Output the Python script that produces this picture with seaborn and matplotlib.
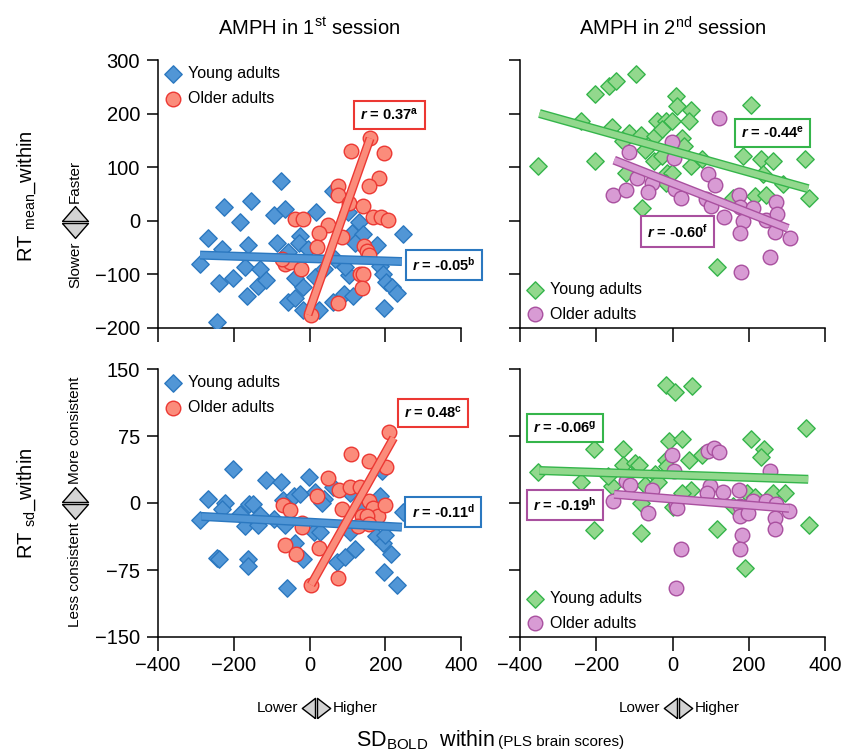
import matplotlib
matplotlib.use("Agg")
import matplotlib.pyplot as plt
import matplotlib.patheffects as pe
from matplotlib.lines import Line2D
import numpy as np
import pandas as pd
import seaborn as sns

# ---- data (SD_BOLD within vs RT within) ----
# session 1, RT mean
s1_mean_young_x = [-269, -225, -154, -75, -183, -232, -289, -240, -203, -170, -162, -130, -135, -115,
                   -165, -245, -95, -66, -86, -57, -26, -29, -3, 18, -38, -16, -57, -38, -16, 15, 37,
                   24, 61, 90, 116, 63, 101, 112, 131, 142, 121, 178, 187, 193, 202, 218, 231, 196,
                   246, 103, 94, 68]
s1_mean_young_y = [-32, 26, 37, 74, -2, -53, -81, -116, -107, -87, -45, -89, -121, -110, -141, -188,
                   11, 22, -42, -59, -29, -42, -53, 16, -107, -124, -152, -144, -166, -104, -90, -166,
                   -152, -136, -140, 56, 16, -22, -2, -25, -42, -45, -84, -99, -115, -124, -135, -163,
                   -25, -102, -87, -71]
s1_mean_older_x = [160, 109, 198, 184, 156, 75, 75, 103, 140, -38, -16, 50, 26, 167, 189, 207, 19, 86,
                   145, 151, 156, -64, -51, -22, 134, 141, 139, 75, 4, -73]
s1_mean_older_y = [154, 130, 127, 79, 65, 65, 48, 33, 28, 3, 3, -7, -22, 7, 7, 2, -48, -31, -47, -56,
                   -64, -81, -76, -89, -99, -99, -126, -153, -175, -71]

# session 2, RT mean
s2_mean_young_x = [-352, -204, -167, -147, -95, -239, -204, -160, -115, -131, -82, -71, -41, -18, -1,
                   -45, -27, 8, 12, 48, 43, 26, 30, -49, -27, -122, -80, -14, -1, 48, 77, 184, 206, 233,
                   263, 237, 290, 347, 359, 217, 244, 158, 118, -18]
s2_mean_young_y = [102, 237, 251, 260, 273, 186, 111, 175, 164, 149, 161, 133, 186, 186, 186, 158, 171,
                   233, 214, 206, 186, 155, 140, 112, 121, 90, 23, 90, 90, 102, 115, 121, 216, 116, 112,
                   87, 68, 115, 42, 47, 48, 42, -86, 71]
s2_mean_older_x = [-114, -155, -122, -93, -55, -64, -1, 4, 7, 21, 94, 112, 122, 87, 100, 136, 174, 176,
                   186, 211, 177, 246, 272, 274, 270, 307, 256, 180]
s2_mean_older_y = [128, 48, 57, 79, 71, 53, 147, 118, 59, 43, 88, 66, 191, 40, 28, 8, 48, 25, 0, 23,
                   -22, 2, 36, 12, -20, -32, -67, -95]

# session 1, RT sd
s1_sd_young_x = [-203, -269, -223, -230, -289, -183, -170, -161, -150, -130, -135, -115, -75, -93, -64,
                 -69, -40, -25, -1, 15, 37, 11, 28, -38, -16, -245, -239, -162, -163, -60, 72, 94, 121,
                 107, 63, 107, 187, 191, 175, 193, 215, 196, 231, 246, 200, 33, 138]
s1_sd_young_y = [38, 4, 0, -7, -19, -12, -26, -1, -1, -13, -25, 26, 23, -18, -25, 3, 8, 10, 29, 12, 5,
                 -32, -32, -45, -63, -62, -63, -63, -70, -95, -66, -60, -52, -32, 18, 11, 8, 36, -37,
                 -45, -57, -77, -92, -10, -36, 0, -4]
s1_sd_older_x = [209, 109, 157, 203, 50, 78, 107, 134, 19, -69, -51, 86, 156, 167, 181, 200, 138, 152,
                 128, -20, -19, -64, -35, 26, 75, 4, 157]
s1_sd_older_y = [80, 55, 47, 40, 28, 15, 18, 18, 8, -2, -8, -7, 2, -6, -14, -2, -15, -15, -26, -22, -27,
                 -47, -57, -50, -84, -92, -23]

# session 2, RT sd
s2_sd_young_x = [-353, -239, -205, -205, -131, -160, -168, -129, -98, -89, -71, -82, -82, -45, -38, -18,
                 6, 50, -10, 24, -18, -14, 43, 77, 48, 24, 0, 118, 189, 206, 241, 233, 195, 217, 263,
                 294, 350, 359, 159]
s2_sd_young_y = [35, 23, 61, -30, 60, 19, 30, 43, 45, 43, 20, 0, -34, 33, 24, 132, 124, 131, 69, 72, 48,
                 41, 48, 54, 15, 11, -4, -29, -73, 72, 61, 52, 11, 7, 11, 11, 84, -25, -3]
s2_sd_older_x = [-1, 4, 94, 109, 122, -123, -111, -155, -54, -64, 8, 12, 98, 91, 133, 174, 256, 176, 176,
                 198, 210, 245, 272, 270, 270, 306, 182, 177, 21, 8]
s2_sd_older_y = [54, 36, 58, 62, 57, 25, 20, 2, 15, -11, -2, -6, 19, 11, 12, 15, 36, -3, -14, -11, 2, 2,
                 -1, -17, -29, -9, -36, -52, -51, -95]

# fitted lines as drawn (slope, intercept, x start, x end), order: s1 mean, s2 mean, s1 sd, s2 sd
young_slope = [-0.0225, -0.199, -0.0227, -0.0139]
young_icept = [-70.5, 130.7, -21.5, 31.5]
young_xrange = [(-289, 244), (-349, 356), (-285, 244), (-349, 356)]
older_slope = [2.006, -0.279, 0.754, -0.0343]
older_icept = [-167.0, 70.4, -94.5, 4.5]
older_xrange = [(-4, 160), (-153, 303), (4, 222), (-153, 306)]

# correlation labels
young_r = ["-0.05", "-0.44", "-0.11", "-0.06"]
young_note = ["b", "e", "d", "g"]
older_r = ["0.37", "-0.60", "0.48", "-0.19"]
older_note = ["a", "f", "c", "h"]

session_titles = ["AMPH in 1$^{\\rm st}$ session", "AMPH in 2$^{\\rm nd}$ session"]

sns.set_style("ticks")
plt.rcParams["font.family"] = ["Liberation Sans", "DejaVu Sans"]
plt.rcParams["text.color"] = "black"
plt.rcParams["mathtext.fontset"] = "custom"
plt.rcParams["mathtext.rm"] = "Liberation Sans"
plt.rcParams["mathtext.it"] = "Liberation Sans:italic"
plt.rcParams["mathtext.bf"] = "Liberation Sans:bold"
plt.rcParams["mathtext.bfit"] = "Liberation Sans:italic:bold"

W, H = 844, 756
fig = plt.figure(figsize=(W / 100, H / 100), dpi=100)


def fx(px):
    return px / W


def fy(py):
    return 1 - py / H


blue = ("#5196d6", "#2b78c0")
red = ("#fb8c7b", "#ec3833")
green = ("#92d88d", "#35b54b")
purple = ("#d89bd4", "#a9509f")

panels = [
    dict(yx=s1_mean_young_x, yy=s1_mean_young_y, ox=s1_mean_older_x, oy=s1_mean_older_y,
         cy=blue, co=red, rect=[158, 60, 461, 328], ylim=(-200, 300), yticks=np.arange(-200, 301, 100),
         leg="upper left", ypos=(355, -82), opos=(210, 198)),
    dict(yx=s2_mean_young_x, yy=s2_mean_young_y, ox=s2_mean_older_x, oy=s2_mean_older_y,
         cy=green, co=purple, rect=[520, 60, 825, 328], ylim=(-200, 300), yticks=np.arange(-200, 301, 100),
         leg="lower left", ypos=(263, 164), opos=(13, -20)),
    dict(yx=s1_sd_young_x, yy=s1_sd_young_y, ox=s1_sd_older_x, oy=s1_sd_older_y,
         cy=blue, co=red, rect=[158, 369, 461, 637], ylim=(-150, 150), yticks=np.arange(-150, 151, 75),
         leg="upper left", ypos=(353, -10), opos=(326, 101)),
    dict(yx=s2_sd_young_x, yy=s2_sd_young_y, ox=s2_sd_older_x, oy=s2_sd_older_y,
         cy=green, co=purple, rect=[520, 369, 825, 637], ylim=(-150, 150), yticks=np.arange(-150, 151, 75),
         leg="lower left", ypos=(-282, 84), opos=(-282, -2)),
]

for i, p in enumerate(panels):
    l, t, r, b = p["rect"]
    ax = fig.add_axes([fx(l), fy(b), fx(r) - fx(l), fy(t) - fy(b)])
    young = pd.DataFrame({"x": p["yx"], "y": p["yy"]})
    older = pd.DataFrame({"x": p["ox"], "y": p["oy"]})
    sns.scatterplot(data=young, x="x", y="y", marker="D", s=78, color=p["cy"][0],
                    edgecolor=p["cy"][1], linewidth=1.0, label="Young adults", ax=ax, zorder=3)
    sns.scatterplot(data=older, x="x", y="y", marker="o", s=110, color=p["co"][0],
                    edgecolor=p["co"][1], linewidth=1.0, label="Older adults", ax=ax, zorder=3)

    for slope, icept, xr, col in [(young_slope[i], young_icept[i], young_xrange[i], p["cy"]),
                                  (older_slope[i], older_icept[i], older_xrange[i], p["co"])]:
        xs = np.array(xr, dtype=float)
        ax.plot(xs, slope * xs + icept, color=col[0], lw=4.5, solid_capstyle="butt", zorder=4,
                path_effects=[pe.Stroke(linewidth=6.5, foreground=col[1], capstyle="butt"), pe.Normal()])

    for txt, note, pos, col in [(young_r[i], young_note[i], p["ypos"], p["cy"][1]),
                                (older_r[i], older_note[i], p["opos"], p["co"][1])]:
        ax.text(pos[0], pos[1], "$\\mathbfit{r}$ = " + txt + "$^{\\mathbf{" + note + "}}$",
                ha="center", va="center", fontsize=10.5, fontweight="bold", zorder=6, clip_on=False,
                bbox=dict(boxstyle="square,pad=0.42", fc="white", ec=col, lw=1.5))

    ax.set_xlim(-400, 400)
    ax.set_ylim(*p["ylim"])
    ax.set_xticks(np.arange(-400, 401, 200))
    ax.set_yticks(p["yticks"])
    ax.set_xlabel("")
    ax.set_ylabel("")
    sns.despine(ax=ax)
    for s in ["left", "bottom"]:
        ax.spines[s].set_linewidth(1.1)
        ax.spines[s].set_color("black")
    ax.tick_params(direction="out", width=1.1, color="black", labelcolor="black", labelsize=14.5)
    ax.tick_params(axis="y", length=8, pad=5)
    ax.tick_params(axis="x", length=10, pad=4)
    if i < 2:
        ax.tick_params(axis="x", labelbottom=False)
    if i % 2 == 1:
        ax.tick_params(axis="y", labelleft=False)
    leg = ax.legend(loc=p["leg"], frameon=False, fontsize=11.5, handletextpad=0.35, labelspacing=0.62,
                    borderaxespad=0.1, borderpad=0.3, handlelength=1.1)
    for t_ in leg.get_texts():
        t_.set_color("black")
    if i < 2:
        ax.set_title(session_titles[i], fontsize=14.5, pad=18, color="black")


# split-triangle glyphs used as direction cues
def tri_pair(cx, cy, vertical):
    if vertical:
        a = [(-1, 0), (1, 0), (0, 1.15), (-1, 0)]
        bb = [(-1, 0), (1, 0), (0, -1.15), (-1, 0)]
        offs = [(0, 1.0), (0, -1.0)]
        ms = 21.5
    else:
        a = [(0, -1), (0, 1), (-1.3, 0), (0, -1)]
        bb = [(0, -1), (0, 1), (1.3, 0), (0, -1)]
        offs = [(-1.0, 0), (1.0, 0)]
        ms = 19
    for verts, (dx, dy) in zip([a, bb], offs):
        fig.add_artist(Line2D([fx(cx + dx)], [fy(cy - dy)], marker=verts, markersize=ms,
                              markerfacecolor="#d3d3d3", markeredgecolor="black", markeredgewidth=1.0,
                              linestyle="none", transform=fig.transFigure))


# y-axis descriptions
fig.text(fx(27), fy(196), "RT $_{\\rm mean}$_within", rotation=90, ha="center", va="center", fontsize=14.5)
fig.text(fx(27), fy(503), "RT $_{\\rm sd}$_within", rotation=90, ha="center", va="center", fontsize=14.5)
tri_pair(75, 222, True)
fig.text(fx(75), fy(203), "Faster", rotation=90, ha="center", va="bottom", fontsize=11)
fig.text(fx(75), fy(241), "Slower", rotation=90, ha="center", va="top", fontsize=11)
tri_pair(75, 503, True)
fig.text(fx(75), fy(484), "More consistent", rotation=90, ha="center", va="bottom", fontsize=11)
fig.text(fx(75), fy(522), "Less consistent", rotation=90, ha="center", va="top", fontsize=11)

# x-axis descriptions
for x0 in [311, 673]:
    tri_pair(x0 + 5, 708, False)
    fig.text(fx(x0 - 13), fy(708), "Lower", ha="right", va="center", fontsize=11)
    fig.text(fx(x0 + 22), fy(708), "Higher", ha="left", va="center", fontsize=11)

fig.text(fx(495), fy(746), "SD$_{\\rm BOLD}$  within", ha="right", va="baseline", fontsize=15.5)
fig.text(fx(498), fy(746), "(PLS brain scores)", ha="left", va="baseline", fontsize=11)

fig.savefig("out.png", dpi=100)
